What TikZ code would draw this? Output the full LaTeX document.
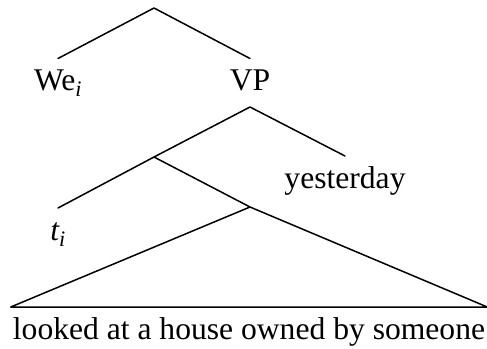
\documentclass[tikz,border=0pt]{standalone}
\usepackage{fontspec}
\setmainfont{Liberation Serif}
\begin{document}
\begin{tikzpicture}[x=1pt,y=-1pt,
  branch/.style={line width=1.5pt, line cap=round, line join=round},
  word/.style={anchor=base, inner xsep=0pt, inner ysep=0pt, text height=21pt, text depth=7pt,
    outer ysep=11pt, font=\fontsize{31.6}{38}\selectfont}]
  \useasboundingbox (0,0) rectangle (487,348);
  % internal branching points
  \coordinate (s) at (154,8);
  \coordinate (vp-top) at (250,107);
  \coordinate (vbar) at (154,157);
  \coordinate (v) at (250,207);
  % words and labels (placed by baseline)
  \node[word] (we) at (58,90.5) {We\textsubscript{\itshape i}};
  \node[word] (vp) at (250,90.5) {VP};
  \node[word] (yest) at (345,188) {yesterday};
  \node[word] (ti) at (58,240) {\itshape t\textsubscript{i}};
  \node[word, inner xsep=0pt] (phrase) at (249,339) {looked at a house owned by someone};
  % branches
  \draw[branch] (we.north) -- (s) -- (vp.north);
  \draw[branch] (vbar) -- (vp-top) -- (yest.north);
  \draw[branch] (ti.north) -- (vbar) -- (v);
  % roof over the unanalysed phrase
  \draw[branch] (v) -- ([xshift=-2pt]phrase.north west) -- ([xshift=2pt]phrase.north east) -- cycle;
\end{tikzpicture}
\end{document}
